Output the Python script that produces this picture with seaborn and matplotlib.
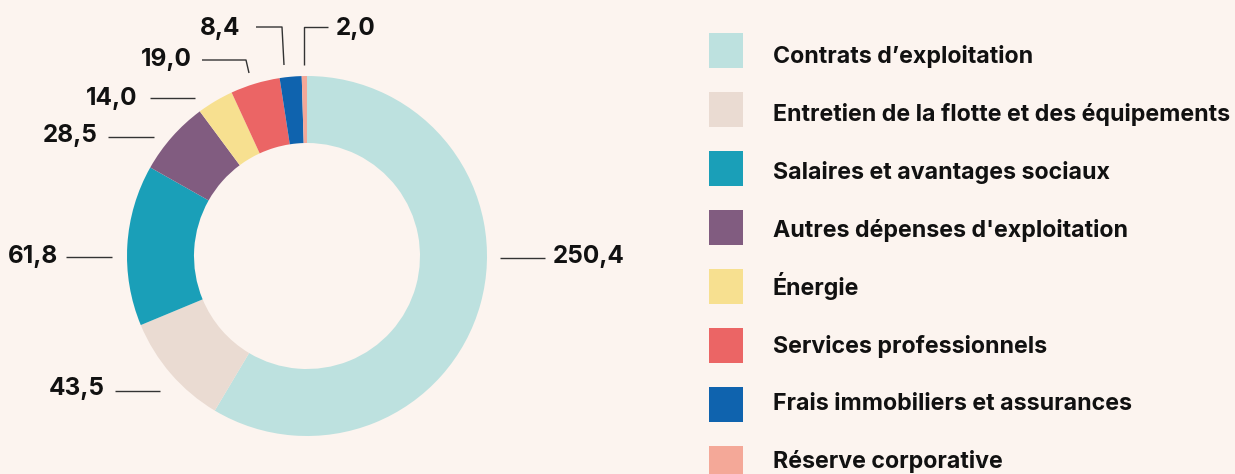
import matplotlib
matplotlib.use("Agg")
import matplotlib.pyplot as plt
import seaborn as sns
from matplotlib.patches import Rectangle

# ----------------------------------------------------------------------
# Data
# ----------------------------------------------------------------------
categories = [
    "Contrats d\u2019exploitation",
    "Entretien de la flotte et des équipements",
    "Salaires et avantages sociaux",
    "Autres dépenses d'exploitation",
    "Énergie",
    "Services professionnels",
    "Frais immobiliers et assurances",
    "Réserve corporative",
]
values = [250.4, 43.5, 61.8, 28.5, 14.0, 19.0, 8.4, 2.0]
colors = ["#BDE1DF", "#EADBD2", "#1A9FB8", "#815C80",
          "#F7E090", "#EB6565", "#0F63AE", "#F4A898"]

# label layout (pixel coords, y from top): text anchor, alignment, leader line
label_pos = [(553, 256, "left"), (105, 389, "right"), (58, 257, "right"),
             (98, 135, "right"), (137, 98, "right"), (192, 59, "right"),
             (240, 28, "right"), (336, 28, "left")]
leaders = [
    [(500, 258), (545, 258)],
    [(115, 391), (160, 391)],
    [(66, 257), (112, 257)],
    [(108, 137), (154, 137)],
    [(150, 98), (195, 98)],
    [(202, 60), (246, 60), (249, 73)],
    [(256, 27), (282, 27), (284, 65)],
    [(304, 65), (304, 27), (328, 27)],
]

W, H = 1235, 474
BG = "#FCF4EF"


def fy(y):
    """Convert pixel y (from top) to data y (from bottom)."""
    return H - y


sns.set_theme(style="white")
plt.rcParams["font.family"] = ["Inter", "DejaVu Sans"]

fig = plt.figure(figsize=(W / 100, H / 100), dpi=100, facecolor=BG)
ax = fig.add_axes([0, 0, 1, 1])
ax.set_facecolor(BG)

# Donut
ax.pie(values, colors=colors, startangle=90, counterclock=False,
       radius=180, center=(307, fy(256)),
       wedgeprops=dict(width=67, linewidth=0))

ax.set_xlim(0, W)
ax.set_ylim(0, H)
ax.set_aspect("auto")
ax.axis("off")

# Value labels with leader lines
for v, (x, y, ha), pts in zip(values, label_pos, leaders):
    ax.text(x, fy(y), f"{v:.1f}".replace(".", ","), ha=ha, va="center",
            fontsize=17.5, fontweight="bold", color="#111111")
    ax.plot([p[0] for p in pts], [fy(p[1]) for p in pts],
            color="#333333", lw=1, solid_capstyle="butt")

# Legend (manual): swatches every 59 px, text baselines every 57.9 px
for i, (cat, col) in enumerate(zip(categories, colors)):
    yc = 50.5 + i * 59
    ax.add_patch(Rectangle((709, fy(yc + 17.5)), 34, 35, facecolor=col,
                           edgecolor="none"))
    ax.text(773, fy(63 + i * 57.9), cat, ha="left", va="baseline",
            fontsize=16.7, fontweight="bold", color="#111111")

fig.savefig("out.png", dpi=100, facecolor=BG)
